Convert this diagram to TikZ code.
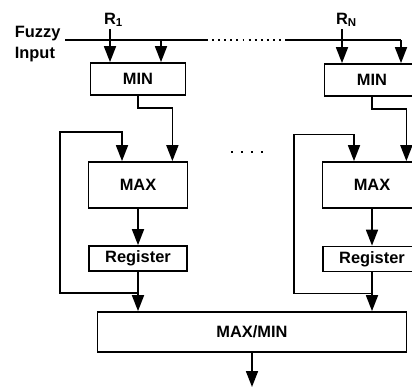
\documentclass[tikz,border=0pt]{standalone}
\usepackage{fontspec}
\setmainfont{Liberation Sans}
\usepackage{tikz}
\usetikzlibrary{arrows.meta,positioning,calc}

\begin{document}
\begin{tikzpicture}[
    x=0.03cm,y=-0.03cm,line width=1.5pt,
    every node/.style={font=\fontsize{14}{18}\selectfont\bfseries},
    unit/.style={rectangle,draw,line width=1.5pt,inner sep=0pt,align=center},
    minbox/.style={unit,minimum width=2.85cm,minimum height=0.96cm},
    maxbox/.style={unit,minimum width=2.97cm,minimum height=1.38cm},
    regbox/.style={unit,minimum width=2.94cm,minimum height=0.75cm},
    flow/.style={-{Triangle[length=4.8mm,width=3.6mm]}},
    dots/.style={line width=1.3pt,dash pattern=on 1.6pt off 3.6pt},
]
\useasboundingbox (0,0) rectangle (412,389);
\clip (0,0) rectangle (412,389);

% first rule
\node[minbox] (min1) at (138,79) {MIN};
\node[maxbox] (max1) at (138,185) {MAX};
\node[regbox] (reg1) at (138,258.5) {Register};
% last rule
\node[minbox] (minN) at (372,80) {MIN};
\node[maxbox] (maxN) at (372,185) {MAX};
\node[regbox] (regN) at (372,259) {Register};
\node[unit,minimum width=9.27cm,minimum height=1.2cm] (maxmin) at (252,332) {MAX/MIN};

\node[anchor=north west,inner sep=0pt,align=left] (fuzzy) at (14,25) {Fuzzy\\Input};
\node[anchor=south,inner sep=1pt] (r1) at (110,29) {R\rlap{\textsubscript{1}}};
\node[anchor=south,inner sep=1pt] (rN) at (342,29) {R\rlap{\textsubscript{N}}};

% input line
\coordinate (inL) at (65,40);
\coordinate (dotL) at (206,40);
\coordinate (dotR) at (285,40);
\coordinate (tap1) at (161,40);
\coordinate (tapN) at (401,40);
\draw (inL) -- (dotL);
\draw[dots] (dotL) -- (dotR);
\draw (dotR) -- (tapN);
\draw[flow] (r1.south) -- (r1.south |- min1.north);
\draw[flow] (tap1) -- (tap1 |- min1.north);
\draw[flow] (rN.south) -- (rN.south |- minN.north);
\draw[flow] (tapN) -- (tapN |- minN.north);

% inside each rule
\draw[flow] (min1.south) -- ++(0,12) -| ($(max1.north east)+(-16,0)$);
\draw[flow] (minN.south) -- ++(0,12) -| ($(maxN.north east)+(-16,0)$);
\draw[flow] (max1) -- (reg1);
\draw[flow] (maxN) -- (regN);
\draw[flow] (reg1.south) ++(0,21) -| ++(-78,-161) -| ($(max1.north)+(-16,0)$);
\draw[flow] (regN.south) ++(0,21) -| ++(-78,-159) -| ($(maxN.north)+(-18,0)$);
\draw[flow] (reg1.south) -- (reg1.south |- maxmin.north);
\draw[flow] (regN.south) -- (regN.south |- maxmin.north);
\draw[dots,line width=1.5pt,dash pattern=on 1.8pt off 6.8pt] (231,152) -- (268,152);

% output
\coordinate (out) at (252,387);
\draw[flow] (maxmin.south) -- (out);
\end{tikzpicture}
\end{document}
